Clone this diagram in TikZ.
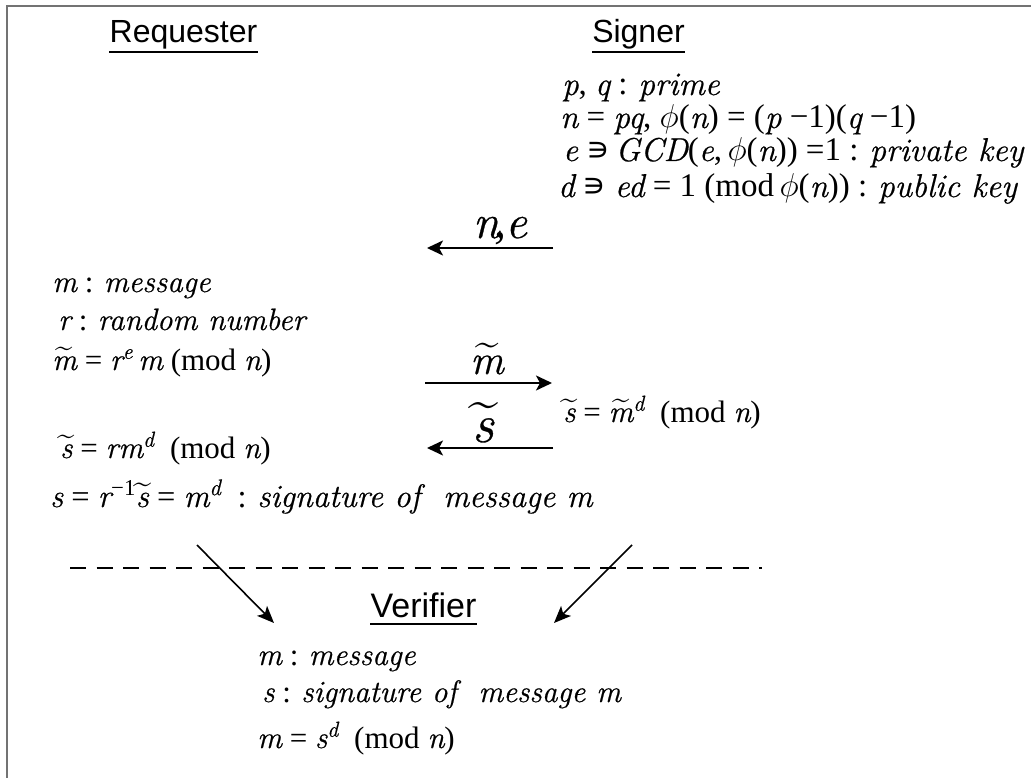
\RequirePackage{fix-cm}
\documentclass[tikz,border=0pt]{standalone}
\usepackage{amsmath,amssymb}
\usepackage{fontspec}
\setmainfont{Liberation Serif}
\newfontfamily\itfam{Latin Modern Roman}[FakeBold=0.6]
\newfontfamily\hdfont{Liberation Sans}
\newfontfamily\symfont{DejaVu Sans}
\usetikzlibrary{arrows.meta}
\newcommand\I[1]{{\itfam\itshape #1}}
\newcommand\Tl[1]{\ensuremath{\widetilde{\hbox{\itfam\itshape #1}}}}
\newcommand\Sp[1]{\textsuperscript{#1}}
\newcommand\Sth{{\symfont ∍}}
\newcommand\Ph{\ensuremath{\phi}}
\begin{document}
\begin{tikzpicture}[x=1pt,y=-1pt,
  txt/.style={anchor=base west,inner sep=0pt,font=\fontsize{31}{38}\selectfont},
  sgt/.style={txt,font=\fontsize{33}{38}\selectfont},
  hd/.style={anchor=base,inner sep=0pt,font=\hdfont\fontsize{32}{38}\selectfont},
  lbl/.style={anchor=base,inner sep=0pt},
  ul/.style={line width=2pt},
  arr/.style={line width=2pt,-{Stealth[length=16pt,width=15pt,inset=4pt]}},
  darr/.style={line width=1.6pt,-{Stealth[length=17pt,width=14pt,inset=4pt]}},
  sep/.style={line width=2.4pt,dash pattern=on 16pt off 10.5pt}
]
\useasboundingbox (0,0) rectangle (1031,778);
\fill[white] (0,0) rectangle (1031,778);
\draw[black!55,line width=2pt] (7,778) -- (7,6) -- (1031,6);

% headers
\node[hd] (req) at (183.5,43) {Requester};
\draw[ul] ([yshift=-9pt]req.base west) -- ([yshift=-9pt]req.base east);
\node[hd] (sig) at (638.5,43) {Signer};
\draw[ul] ([yshift=-9pt]sig.base west) -- ([yshift=-9pt]sig.base east);
\node[hd,font=\hdfont\fontsize{34}{38}\selectfont] (ver) at (423.5,617) {Verifier};
\draw[ul] ([yshift=-7pt]ver.base west) -- ([yshift=-7pt]ver.base east);

% signer block
\node[sgt] (s1) at (562,95) {\I{p}, \I{q} : \I{prime}};
\node[sgt] (s2) at (560,128) {\I{n} = \I{pq}, \Ph(\I{n}) = (\I{p} −1)(\I{q} −1)};
\node[sgt] (s3) at (563,161) {\I{e} \Sth\,\I{GCD}(\I{e},\,\Ph(\I{n})) =1 : \I{private key}};
\node[sgt] (s4) at (558,197) {\I{d} \Sth{} \I{ed} = 1 (mod\,\Ph(\I{n})) : \I{public key}};

% requester block
\node[txt] (r1) at (52,292) {\I{m} : \I{message}};
\node[txt] (r2) at (58,330) {\I{r} : \I{random number}};
\node[txt] (r3) at (52,370) {\Tl{m} = \I{r}\Sp{\I{e}}\,\I{m} (mod \I{n})};
\node[txt] (r4) at (60,458) {\Tl{s} = \I{rm}\Sp{\I{d}}\ \ (mod \I{n})};
\node[txt,font=\fontsize{32.5}{38}\selectfont] (r5) at (50,507) {\I{s} = \I{r}\Sp{−1}\Tl{s} = \I{m}\Sp{\I{d}}\ \ : \I{signature of\ \ message m}};

% signer response
\node[txt] (sr) at (563,422) {\Tl{s} = \Tl{m}\Sp{\I{d}}\ \ (mod \I{n})};

% messages
\coordinate (neR) at (553,248);
\coordinate (neL) at (427,248);
\draw[arr] (neR) -- (neL);
\node[lbl,font=\fontsize{48}{48}\selectfont] (nel) at (500,238) {\I{n}\kern-5pt,\kern-1pt\I{e}};

\coordinate (mL) at (425,383);
\coordinate (mR) at (552,383);
\draw[arr] (mL) -- (mR);
\node[lbl,font=\fontsize{42}{42}\selectfont] (ml) at (487,374) {\Tl{m}};

\coordinate (sR) at (553,448);
\coordinate (sL) at (427,448);
\draw[arr] (sR) -- (sL);
\node[lbl,font=\fontsize{54}{54}\selectfont] (sl) at (483,442) {\Tl{s}};

% separator
\coordinate (d0) at (70,568);
\coordinate (d1) at (762,568);
\draw[sep] (d0) -- (d1);

% to verifier
\coordinate (a0) at (197,545);
\coordinate (a1) at (274,623);
\draw[darr] (a0) -- (a1);
\coordinate (b0) at (632,545);
\coordinate (b1) at (554,623);
\draw[darr] (b0) -- (b1);

% verifier block
\node[txt] (v1) at (257,665) {\I{m} : \I{message}};
\node[txt] (v2) at (262,702) {\I{s} : \I{signature of\ \ message m}};
\node[txt] (v3) at (257,748) {\I{m} = \I{s}\Sp{\I{d}}\ \ (mod \I{n})};
\end{tikzpicture}
\end{document}
